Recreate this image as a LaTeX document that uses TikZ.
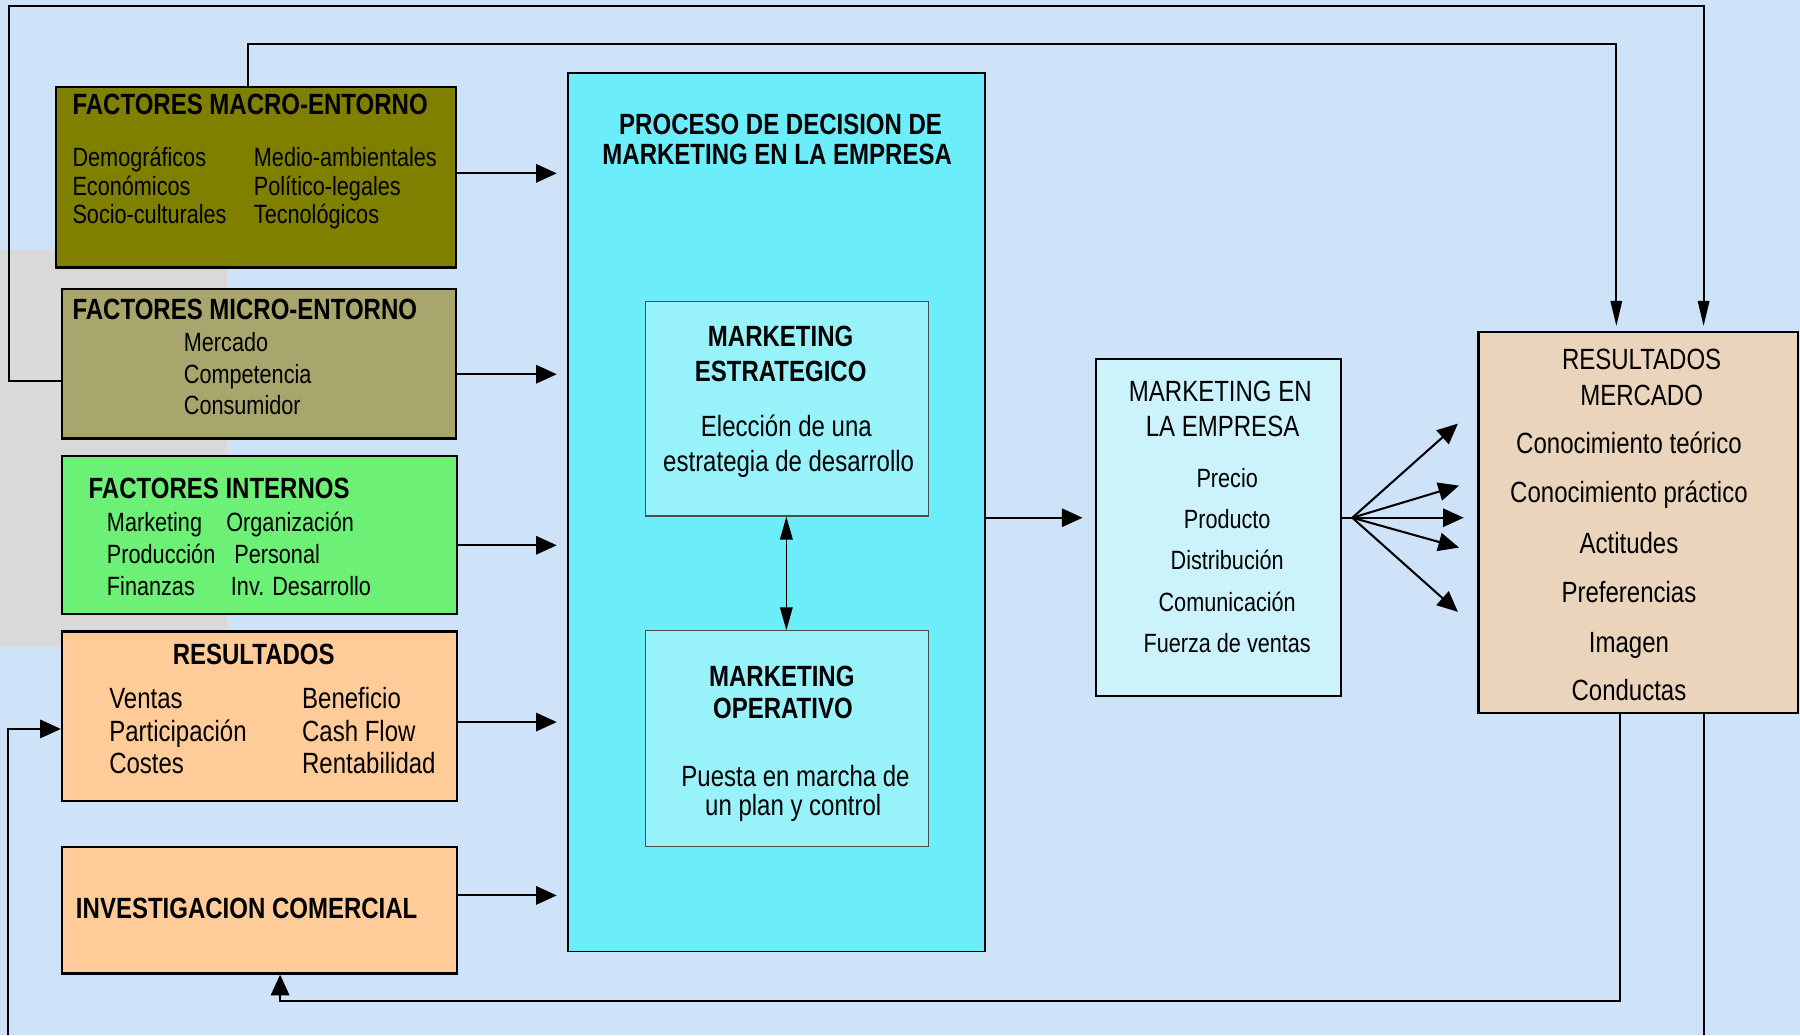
\documentclass[tikz,border=0pt]{standalone}
\usepackage{fontspec}
\setmainfont[FakeStretch=0.82]{Liberation Sans}
\usetikzlibrary{arrows.meta}

\definecolor{bgblue}{RGB}{207,227,248}
\definecolor{wmgrey}{RGB}{217,217,217}
\definecolor{olive}{RGB}{128,128,0}
\definecolor{khaki}{RGB}{168,166,108}
\definecolor{green}{RGB}{108,240,118}
\definecolor{peach}{RGB}{255,204,153}
\definecolor{cyanbig}{RGB}{108,238,250}
\definecolor{cyanin}{RGB}{152,242,250}
\definecolor{cyanlt}{RGB}{204,243,252}
\definecolor{tan}{RGB}{235,212,188}

\tikzset{
  box/.style={draw=black, line width=2pt, anchor=north west, inner sep=0pt},
  inbox/.style={draw=black!70, line width=1pt, anchor=north west, inner sep=0pt},
  conn/.style={line width=1.8pt, -{Triangle[length=18pt,width=16pt]}},
  downconn/.style={line width=1.8pt, -{Triangle[length=22pt,width=10pt]}},
  line/.style={line width=1.8pt},
  hd/.style={font=\fontsize{25.5}{30}\selectfont\bfseries, inner sep=0pt},
  hdr/.style={font=\fontsize{25.5}{30}\selectfont, inner sep=0pt},
  sm/.style={font=\fontsize{23}{27}\selectfont, inner sep=0pt},
  md/.style={font=\fontsize{25.5}{30}\selectfont, inner sep=0pt},
}

\begin{document}
\begin{tikzpicture}[x=1pt,y=-1pt]
  % page and background
  \useasboundingbox (0,0) rectangle (1568,902);
  \fill[bgblue] (0,0) rectangle (1568,902);
  \fill[wmgrey] (0,218) rectangle (198,563);

  % left column of boxes
  \node[box, fill=olive, minimum width=348pt, minimum height=157pt] (macro) at (48,75) {};
  \node[box, fill=khaki, minimum width=343pt, minimum height=130pt] (micro) at (53,251) {};
  \node[box, fill=green, minimum width=344pt, minimum height=138pt] (intern) at (53,396) {};
  \node[box, fill=peach, minimum width=344pt, minimum height=148pt] (result) at (53,549) {};
  \node[box, fill=peach, minimum width=344pt, minimum height=110pt] (invest) at (53,737) {};

  % decision process
  \node[box, line width=1.6pt, fill=cyanbig, minimum width=363pt, minimum height=765pt] (proc) at (494,63) {};
  \node[inbox, fill=cyanin, minimum width=246pt, minimum height=187pt] (estr) at (562,262) {};
  \node[inbox, fill=cyanin, minimum width=246pt, minimum height=188pt] (oper) at (562,549) {};

  % marketing mix and market results
  \node[box, fill=cyanlt, minimum width=213pt, minimum height=293pt] (mke) at (954,312) {};
  \node[box, fill=tan, minimum width=278pt, minimum height=332pt] (rm) at (1287,288) {};

  % --- texts: macro environment
  \node[hd, anchor=base west] (macroT) at (63,100) {FACTORES MACRO-ENTORNO};
  \foreach \t/\yy [count=\i] in {Demográficos/145, Económicos/170, Socio-culturales/195}
    \node[sm, anchor=base west] (macA\i) at (63,\yy) {\t};
  \foreach \t/\yy [count=\i] in {Medio-ambientales/145, Político-legales/170, Tecnológicos/195}
    \node[sm, anchor=base west] (macB\i) at (221,\yy) {\t};

  % micro environment
  \node[hd, anchor=base west] (microT) at (63,278) {FACTORES MICRO-ENTORNO};
  \foreach \t/\yy [count=\i] in {Mercado/306, Competencia/334, Consumidor/361}
    \node[sm, anchor=base west] (micA\i) at (160,\yy) {\t};

  % internal factors
  \node[hd, anchor=base west] (internT) at (77,434) {FACTORES INTERNOS};
  \foreach \t/\yy [count=\i] in {Marketing/463, Producción/491, Finanzas/519}
    \node[sm, anchor=base west] (intA\i) at (93,\yy) {\t};
  \node[sm, anchor=base west] (intB1) at (197,463) {Organización};
  \node[sm, anchor=base west] (intB2) at (204,491) {Personal};
  \node[sm, anchor=base west] (intB3) at (201,519) {Inv. Desarrollo};

  % results
  \node[hd, anchor=base] (resultT) at (221,579) {RESULTADOS};
  \foreach \t/\yy [count=\i] in {Ventas/617, Participación/646, Costes/674}
    \node[md, anchor=base west] (resA\i) at (95,\yy) {\t};
  \foreach \t/\yy [count=\i] in {Beneficio/617, Cash Flow/646, Rentabilidad/674}
    \node[md, anchor=base west] (resB\i) at (263,\yy) {\t};

  % commercial research
  \node[hd, anchor=base west] (investT) at (66,800) {INVESTIGACION COMERCIAL};

  % decision process titles
  \node[hd, anchor=base] (procT1) at (680,117) {PROCESO DE DECISION DE};
  \node[hd, anchor=base] (procT2) at (677,143) {MARKETING EN LA EMPRESA};

  \node[hd, anchor=base] (estrT1) at (680,302) {MARKETING};
  \node[hd, anchor=base] (estrT2) at (680,332) {ESTRATEGICO};
  \node[md, anchor=base] (estrB1) at (685,380) {Elección de una};
  \node[md, anchor=base] (estrB2) at (687,411) {estrategia de desarrollo};

  \node[hd, anchor=base] (operT1) at (681,598) {MARKETING};
  \node[hd, anchor=base] (operT2) at (682,626) {OPERATIVO};
  \node[md, anchor=base] (operB1) at (693,685) {Puesta en marcha de};
  \node[md, anchor=base] (operB2) at (691,710) {un plan y control};

  % marketing in the company
  \node[hdr, anchor=base] (mkeT1) at (1063,350) {MARKETING EN};
  \node[hdr, anchor=base] (mkeT2) at (1065,380) {LA EMPRESA};
  \foreach \t/\yy [count=\i] in {Precio/425, Producto/460, Distribución/496, Comunicación/533, Fuerza de ventas/568}
    \node[sm, anchor=base] (mkeA\i) at (1069,\yy) {\t};

  % market results
  \node[hdr, anchor=base] (rmT1) at (1430,322) {RESULTADOS};
  \node[hdr, anchor=base] (rmT2) at (1430,353) {MERCADO};
  \foreach \t/\yy [count=\i] in {Conocimiento teórico/395, Conocimiento práctico/438, Actitudes/482, Preferencias/525, Imagen/568, Conductas/610}
    \node[md, anchor=base] (rmA\i) at (1419,\yy) {\t};

  % --- connectors: inputs to the decision process
  \draw[conn, shorten >=9pt] (macro.east |- 0,151) -- (proc.west |- 0,151);
  \draw[conn, shorten >=9pt] (micro.east |- 0,326) -- (proc.west |- 0,326);
  \draw[conn, shorten >=9pt] (intern.east |- 0,475) -- (proc.west |- 0,475);
  \draw[conn, shorten >=9pt] (result.east |- 0,629) -- (proc.west |- 0,629);
  \draw[conn, shorten >=9pt] (invest.east |- 0,780) -- (proc.west |- 0,780);

  % strategic <-> operative
  \draw[line width=1.2pt, {Triangle[length=20pt,width=11pt]}-{Triangle[length=20pt,width=11pt]}]
    (estr.south -| 685,0) -- (oper.north -| 685,0);

  % decision process to marketing mix
  \draw[conn, shorten >=11pt] (proc.east |- 0,451) -- (mke.west |- 0,451);

  % fan of arrows toward market results
  \coordinate (fan) at (1178,451);
  \coordinate (f1) at (1270,369);
  \coordinate (f2) at (1271,423);
  \coordinate (f3) at (1275,451);
  \coordinate (f4) at (1271,477);
  \coordinate (f5) at (1270,533);
  \draw[line width=1.8pt] (mke.east |- fan) -- (fan);
  \foreach \f in {f1,f2,f3,f4,f5}
    \draw[conn] (fan) -- (\f);

  % feedback loops along the top
  \draw[downconn, shorten >=4pt] (micro.west |- 0,332) -- (8,332) -- (8,5) -- (1484,5) -- (rm.north -| 1484,0);
  \draw[downconn, shorten >=4pt] (macro.north -| 216,0) -- (216,38.5) -- (1408,38.5) -- (rm.north -| 1408,0);

  % feedback loops along the bottom
  \draw[conn] (rm.south -| 1411,0) -- (1411,872) -- (244,872) -- (invest.south -| 244,0);
  \coordinate (rmExit) at (1484,902);
  \draw[line] (rm.south -| 1484,0) -- (rmExit);
  \coordinate (leftEntry) at (7,902);
  \draw[conn] (leftEntry) -- (7,635) -- (result.west |- 0,635);
\end{tikzpicture}
\end{document}
